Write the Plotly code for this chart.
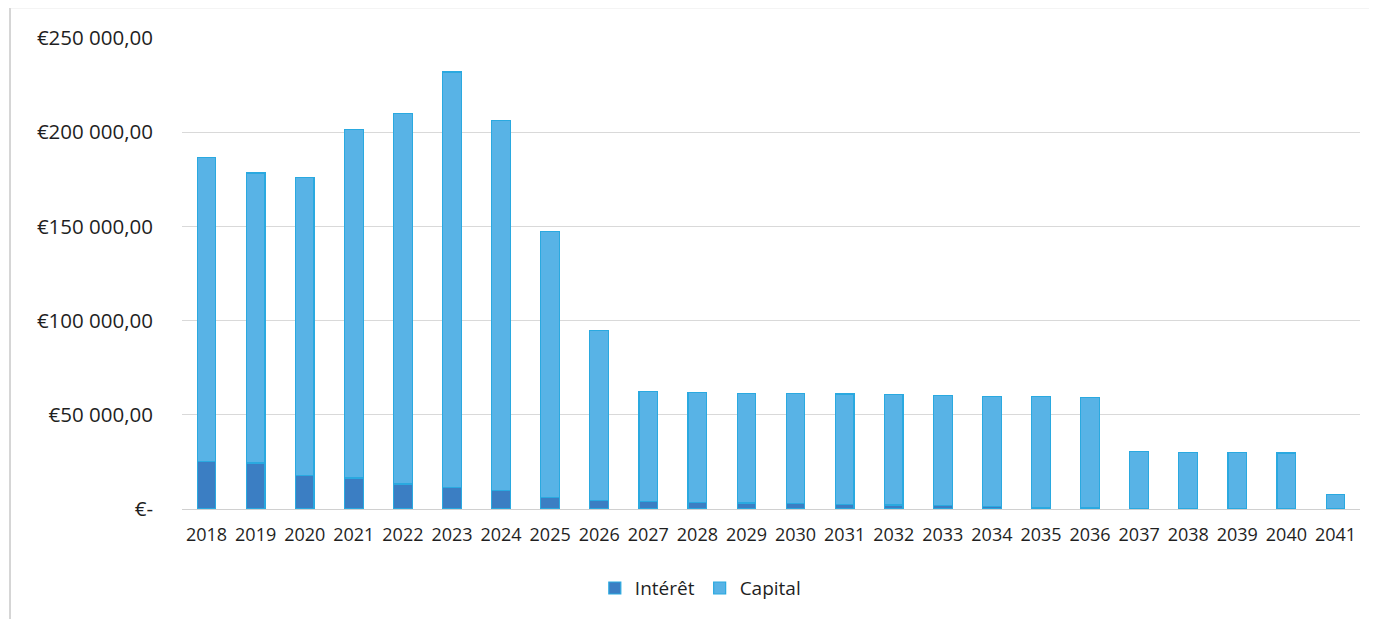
import plotly.graph_objects as go

years = [str(y) for y in range(2018, 2042)]
totals = [186.7, 178.3, 176.0, 201.4, 210.0, 232.0, 206.2, 147.2, 94.6, 62.2, 61.9, 61.5,
          61.3, 61.0, 60.6, 60.3, 59.8, 59.6, 59.2, 30.4, 30.2, 30.0, 29.7, 7.5]
interet_k = [25.4, 24.4, 17.8, 16.5, 13.3, 11.4, 9.8, 6.2, 4.4, 3.9, 3.6, 3.2,
             2.8, 2.5, 2.1, 1.8, 1.4, 1.0, 0.6, 0.3, 0.2, 0.1, 0.05, 0.02]

interet = [v * 1000 for v in interet_k]
capital = [(t - i) * 1000 for t, i in zip(totals, interet_k)]

tick_vals = [0, 50000, 100000, 150000, 200000, 250000]
tick_text = ["€-", "€50 000,00", "€100 000,00", "€150 000,00", "€200 000,00", "€250 000,00"]

FONT = "Open Sans"
EDGE = "#2aa9e0"

fig = go.Figure()
fig.add_trace(go.Bar(x=years, y=interet, name="Intérêt",
                     marker=dict(color="#3b7ec3", line=dict(color=EDGE, width=1.2))))
fig.add_trace(go.Bar(x=years, y=capital, name="Capital",
                     marker=dict(color="#58b3e6", line=dict(color=EDGE, width=1.2))))

fig.update_layout(
    barmode="stack",
    bargap=0.62,
    width=1369, height=611,
    margin=dict(l=174, r=17, t=30, b=106),
    paper_bgcolor="white", plot_bgcolor="white",
    font=dict(family=FONT, size=18, color="#1f1f1f"),
    showlegend=True,
    legend=dict(orientation="h", x=0.44, xanchor="center", y=-0.168, yanchor="middle",
                font=dict(family=FONT, size=19, color="#1f1f1f"),
                itemwidth=30, traceorder="normal"),
    xaxis=dict(type="category", showgrid=False, showline=True, linecolor="#d0d0d0",
               linewidth=1, ticks="", tickfont=dict(size=18), ticklabelstandoff=9),
    yaxis=dict(range=[0, 250000], tickvals=tick_vals, ticktext=tick_text,
               showgrid=True, gridcolor="#d9d9d9", gridwidth=1, zeroline=False,
               showline=False, ticks="", tickfont=dict(size=20.5), ticklabelstandoff=28),
    shapes=[
        dict(type="line", xref="paper", yref="paper", x0=-0.146, x1=-0.146, y0=1.064, y1=-0.3,
             line=dict(color="#c8c8c8", width=1.5)),
        dict(type="line", xref="paper", yref="paper", x0=-0.146, x1=1.02, y0=1.064, y1=1.064,
             line=dict(color="#e0e0e0", width=1)),
    ],
)

fig.write_html("out.html")
